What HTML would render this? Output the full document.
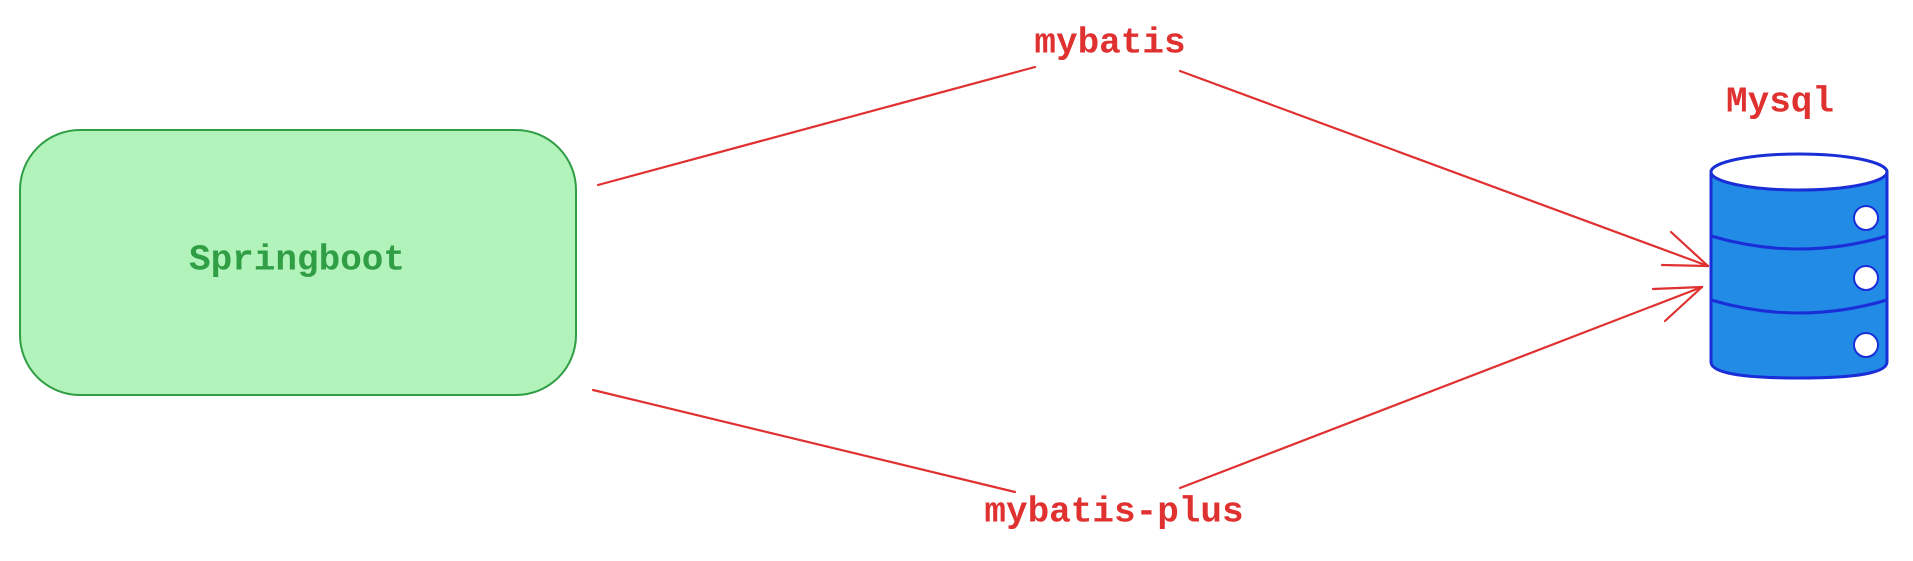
<!DOCTYPE html>
<html><head><meta charset="utf-8"><style>
html,body{margin:0;padding:0;background:#fff;width:1913px;height:561px;overflow:hidden}
svg{display:block}
text{font-family:"Liberation Mono",monospace;font-size:36px;font-weight:bold;text-anchor:middle;dominant-baseline:central}
</style></head><body>
<svg width="1913" height="561" viewBox="0 0 1913 561" xmlns="http://www.w3.org/2000/svg">
<rect x="20" y="130" width="556" height="265" rx="60" ry="60" fill="#b2f2bb" stroke="#2f9e44" stroke-width="2"/>
<text x="297" y="260" fill="#2f9e44">Springboot</text>
<g stroke="#e03131" stroke-width="2.2" fill="none" stroke-linecap="round">
<line x1="598" y1="185" x2="1035" y2="67"/>
<line x1="1180" y1="71" x2="1708" y2="266"/>
<line x1="1671" y1="232" x2="1708" y2="266"/>
<line x1="1662" y1="265" x2="1708" y2="266"/>
<line x1="593" y1="390" x2="1015" y2="492"/>
<line x1="1180" y1="488" x2="1702" y2="287"/>
<line x1="1653" y1="289" x2="1702" y2="287"/>
<line x1="1665" y1="321" x2="1702" y2="287"/>
</g>
<text x="1110" y="43" fill="#e03131">mybatis</text>
<text x="1114" y="512" fill="#e03131">mybatis-plus</text>
<text x="1780" y="102" fill="#e03131">Mysql</text>
<g stroke="#1a2ed8" stroke-width="3" fill="#228be6">
<path d="M1711 172 L1711 362 Q1711 378 1799 378 Q1887 378 1887 362 L1887 172 Z"/>
<path d="M1711 236 Q1799 262 1887 236" fill="none"/>
<path d="M1711 300 Q1799 326 1887 300" fill="none"/>
<ellipse cx="1799" cy="172" rx="88" ry="18" fill="#fff"/>
<circle cx="1866" cy="218" r="12" fill="#fff" stroke-width="2"/>
<circle cx="1866" cy="278" r="12" fill="#fff" stroke-width="2"/>
<circle cx="1866" cy="345" r="12" fill="#fff" stroke-width="2"/>
</g>
</svg>
</body></html>
